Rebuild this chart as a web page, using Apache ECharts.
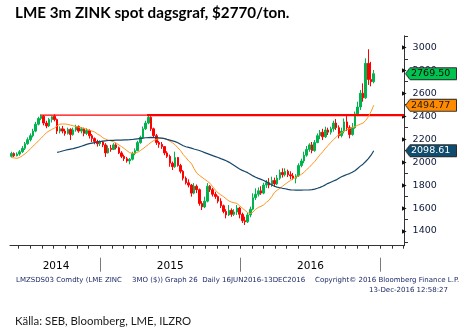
<!DOCTYPE html>
<html>
<head>
<meta charset="utf-8">
<script src="https://cdn.jsdelivr.net/npm/echarts@6/dist/echarts.min.js"></script>
<style>
  html, body { margin: 0; padding: 0; background: #fff; }
  #chart { width: 460px; height: 332px; }
</style>
</head>
<body>
<div id="chart"></div>
<script>
// LME 3m zinc, weekly candles (mid-week dates), May 2014 - Dec 2016
const firstWeek = Date.UTC(2014, 4, 14);
const weekCount = 136;

const weekOpen = [
  2050,2075,2055,2070,2090,2120,2160,2195,2230,2270,2330,2380,2400,2340,2315,2370,
  2400,2370,2270,2290,2270,2250,2285,2240,2280,2310,2270,2290,2250,2275,2230,2205,
  2180,2160,2175,2150,2080,2120,2110,2150,2125,2080,2050,2030,2010,2025,2075,2100,
  2170,2215,2290,2340,2390,2290,2230,2170,2155,2135,2080,2050,1990,1960,2040,1970,
  1920,1860,1820,1800,1730,1790,1760,1640,1610,1660,1790,1760,1720,1700,1660,1620,
  1570,1540,1580,1545,1565,1600,1545,1490,1480,1540,1590,1690,1720,1750,1730,1800,
  1820,1800,1840,1810,1860,1910,1890,1920,1890,1880,1860,1880,1970,2010,2060,2110,
  2150,2100,2170,2230,2260,2220,2280,2260,2290,2340,2300,2230,2270,2350,2300,2240,
  2300,2420,2480,2600,2560,2860,2720,2700
];
const weekClose = [
  2075,2055,2070,2090,2120,2160,2195,2230,2270,2330,2380,2400,2340,2315,2370,2395,
  2370,2270,2290,2270,2250,2285,2240,2280,2310,2270,2290,2250,2275,2230,2205,2180,
  2160,2175,2150,2080,2120,2110,2150,2125,2080,2050,2030,2010,2025,2075,2100,2170,
  2215,2290,2340,2390,2290,2230,2170,2155,2135,2080,2050,1990,1960,2040,1970,1920,
  1860,1820,1800,1730,1790,1760,1640,1610,1660,1790,1760,1720,1700,1660,1620,1570,
  1540,1580,1545,1565,1600,1545,1490,1480,1540,1590,1690,1720,1750,1730,1800,1820,
  1800,1840,1810,1860,1910,1890,1920,1890,1880,1860,1880,1970,2010,2060,2110,2150,
  2100,2170,2230,2260,2220,2280,2260,2290,2340,2300,2230,2270,2350,2300,2240,2300,
  2420,2480,2600,2560,2860,2720,2700,2769.50
];
const weekLow = [
  2040,2045,2050,2055,2080,2105,2150,2180,2215,2260,2320,2365,2320,2295,2305,2345,
  2355,2245,2250,2250,2230,2240,2192,2230,2265,2255,2250,2225,2235,2205,2175,2155,
  2135,2140,2130,2045,2075,2090,2105,2110,2070,2035,2010,1995,1981,2015,2060,2095,
  2160,2205,2280,2330,2270,2210,2150,2125,2115,2060,2036,1960,1931,1950,1960,1902,
  1840,1805,1780,1699,1720,1730,1620,1583,1600,1650,1740,1700,1680,1641,1600,1554,
  1510,1530,1524,1530,1540,1510,1470,1452,1470,1520,1580,1670,1700,1715,1720,1775,
  1772,1785,1786,1800,1845,1865,1875,1870,1850,1844,1815,1870,1955,1990,2047,2090,
  2077,2090,2165,2200,2192,2210,2236,2240,2265,2280,2207,2215,2250,2270,2207,2230,
  2290,2400,2454,2526,2550,2672,2660,2686
];
const weekHigh = [
  2090,2085,2085,2105,2140,2175,2215,2250,2290,2350,2395,2416,2410,2360,2385,2400,
  2416,2380,2310,2315,2290,2300,2295,2300,2325,2320,2305,2300,2295,2285,2245,2215,
  2195,2190,2185,2165,2145,2150,2165,2165,2135,2095,2065,2045,2035,2090,2120,2185,
  2230,2310,2360,2416,2400,2300,2245,2185,2175,2140,2095,2065,2005,2091,2045,1985,
  1930,1875,1850,1810,1817,1805,1770,1660,1699,1817,1800,1775,1742,1710,1685,1630,
  1590,1626,1597,1590,1626,1610,1560,1525,1560,1612,1728,1772,1780,1790,1820,1844,
  1860,1873,1865,1888,1935,1946,1946,1935,1920,1905,1895,1990,2030,2091,2140,2164,
  2175,2192,2250,2280,2290,2308,2300,2308,2360,2375,2320,2300,2380,2401,2320,2340,
  2440,2526,2628,2686,2904,2983,2873,2802
];

// 50-day moving average (orange)
const ma50 = [
  2040,2036,2033,2040,2055,2072,2091,2115,2138,2160,2185,2207,2232,2256,2272,2284,
  2296,2316,2330,2332,2332,2328,2322,2316,2310,2305,2300,2294,2286,2278,2270,2262,
  2245,2232,2212,2200,2192,2185,2178,2165,2150,2135,2118,2100,2082,2077,2077,2085,
  2100,2117,2135,2153,2172,2188,2198,2205,2207,2207,2195,2182,2168,2150,2125,2100,
  2065,2040,2010,1990,1945,1905,1885,1868,1850,1833,1815,1785,1755,1732,1715,1700,
  1680,1662,1652,1646,1640,1620,1600,1580,1560,1550,1565,1590,1605,1615,1628,1650,
  1668,1700,1735,1755,1772,1790,1808,1825,1840,1855,1868,1880,1893,1910,1935,1955,
  1980,2005,2035,2065,2090,2120,2145,2172,2195,2218,2240,2255,2270,2282,2292,2302,
  2310,2320,2330,2340,2362,2395,2440,2494.77
];

// 200-day moving average (dark blue), starts once enough history exists
const ma200 = [
  null,null,null,null,null,null,null,null,null,null,null,null,null,null,null,null,
  null,2085,2090,2097,2103,2108,2113,2118,2124,2130,2138,2146,2154,2161,2166,2170,
  2175,2178,2182,2185,2188,2189,2190,2191,2192,2192,2193,2194,2195,2197,2200,2203,
  2206,2209,2212,2214,2215,2214,2213,2211,2209,2205,2198,2192,2185,2178,2168,2155,
  2142,2134,2128,2122,2114,2108,2101,2092,2083,2074,2065,2056,2048,2040,2030,2022,
  2012,2000,1985,1970,1955,1940,1928,1918,1908,1895,1880,1868,1858,1850,1840,1828,
  1815,1800,1790,1782,1777,1772,1768,1762,1758,1757,1756,1756,1756,1757,1757,1758,
  1760,1765,1772,1780,1790,1802,1815,1825,1835,1845,1860,1872,1882,1892,1900,1912,
  1925,1945,1965,1982,2005,2030,2060,2098.61
];

// Resistance level joining the 2014 and 2015 highs
const resistanceLevel = 2410;
const resistanceStart = '2014-07-29';
const resistancePivot = '2015-05-02';

// Axis settings
const xStart = '2014-05-10';
const xEnd = '2017-03-03';
const yMin = 1272;
const yMax = 3100;
const yTickLabels = [1400, 1600, 1800, 2000, 2200, 2400, 2600, 2800, 3000];
const yMinorTicks = [1300, 1500, 1700, 1900, 2100, 2300, 2500, 2700, 2900, 3100];
const yearLabels = ['2014', '2015', '2016'];
const yearLabelDates = ['2014-09-07', '2015-07-02', '2016-07-02'];
const yearBreaks = ['2015-01-01', '2016-01-01', '2017-01-01'];

const ts = s => Date.parse(s + 'T00:00:00Z');
const weekDates = [];
for (let i = 0; i < weekCount; i++) weekDates.push(firstWeek + i * 7 * 86400000);

// month starts for the small x ticks
const monthTicks = [];
{
  const a = new Date(ts(xStart)), b = ts(xEnd);
  let y = a.getUTCFullYear(), m = a.getUTCMonth() + 1;
  for (;;) {
    const t = Date.UTC(y, m, 1);
    if (t > b) break;
    monthTicks.push(t);
    m++; if (m > 11) { m = 0; y++; }
  }
}
const yearLabelTimes = yearLabelDates.map(ts);

const xMin = ts(xStart), xMax = ts(xEnd);
const candles = weekDates.map((d, i) => [d, weekOpen[i], weekClose[i], weekLow[i], weekHigh[i]]);
const ma50Line = weekDates.map((d, i) => [d, ma50[i]]);
const ma200Line = weekDates.map((d, i) => [d, ma200[i]]);
const resistanceOld = [[ts(resistanceStart), resistanceLevel], [ts(resistancePivot), resistanceLevel]];
const resistanceNew = [[ts(resistancePivot), resistanceLevel], [xMax, resistanceLevel]];

const last = weekCount - 1;
const lastClose = weekClose[last];
const lastMa50 = ma50[last];
const lastMa200 = ma200[last];

// arrow-shaped value tag drawn as a label background
function tagImage(fill, w, h) {
  const c = document.createElement('canvas');
  c.width = w; c.height = h;
  const g = c.getContext('2d');
  g.beginPath();
  g.moveTo(0.5, h / 2);
  g.lineTo(5, 0.5);
  g.lineTo(w - 0.5, 0.5);
  g.lineTo(w - 0.5, h - 0.5);
  g.lineTo(5, h - 0.5);
  g.closePath();
  g.fillStyle = fill;
  g.fill();
  g.strokeStyle = '#2b2b2b';
  g.lineWidth = 1;
  g.stroke();
  return c;
}
const tagW = 52, tagH = 13;
function tagStyle(fill, textColor) {
  return {
    width: tagW - 6, height: tagH, lineHeight: tagH,
    padding: [0, 0, 0, 6],
    backgroundColor: { image: tagImage(fill, tagW, tagH) },
    color: textColor, fontSize: 9.5, fontFamily: 'DejaVu Sans'
  };
}

const chart = echarts.init(document.getElementById('chart'), null, { renderer: 'canvas' });

const footColor = '#1d2a68';
chart.setOption({
  animation: false,
  backgroundColor: '#ffffff',
  title: [
    {
      text: 'LME 3m ZINK spot dagsgraf, $2770/ton.',
      left: 10, top: 1,
      textStyle: { fontFamily: 'Lato', fontWeight: 'bold', fontSize: 15.2, color: '#000' }
    },
    {
      text: 'LMZSDS03 Comdty (LME ZINC',
      left: 11, top: 272,
      textStyle: { fontFamily: 'DejaVu Sans', fontWeight: 'normal', fontSize: 7, color: footColor }
    },
    {
      text: '3MO ($)) Graph 26  Daily 16JUN2016-13DEC2016',
      left: 127, top: 272,
      textStyle: { fontFamily: 'DejaVu Sans', fontWeight: 'normal', fontSize: 7, color: footColor }
    },
    {
      text: 'Copyright\u00a9 2016 Bloomberg Finance L.P.',
      left: 310, top: 272,
      textStyle: { fontFamily: 'DejaVu Sans', fontWeight: 'normal', fontSize: 7, color: footColor }
    },
    {
      text: '13-Dec-2016 12:58:27',
      right: 7, top: 282,
      textStyle: { fontFamily: 'DejaVu Sans', fontWeight: 'normal', fontSize: 7, color: footColor }
    },
    {
      text: 'K\u00e4lla: SEB, Bloomberg, LME, ILZRO',
      left: 10, top: 311,
      textStyle: { fontFamily: 'Lato', fontWeight: 'normal', fontSize: 11.4, color: '#1a1a1a' }
    }
  ],
  grid: { left: 10, right: 53, top: 35.8, bottom: 86.3 },
  xAxis: [
    {
      // date axis carrying the series
      type: 'time',
      min: xMin, max: xMax,
      axisLine: { show: true, lineStyle: { color: '#333', width: 1 } },
      axisTick: { show: false },
      axisLabel: { show: false },
      splitLine: { show: false }
    },
    {
      // month ticks and year labels
      type: 'value',
      position: 'bottom',
      min: xMin, max: xMax,
      axisLine: { show: false },
      axisTick: { show: true, length: 3, inside: false, customValues: monthTicks, lineStyle: { color: '#333' } },
      axisLabel: {
        show: true,
        customValues: yearLabelTimes,
        margin: 15,
        formatter: v => {
          let k = 0, best = Infinity;
          yearLabelTimes.forEach((t, j) => { const d = Math.abs(t - v); if (d < best) { best = d; k = j; } });
          return yearLabels[k];
        },
        fontFamily: 'DejaVu Sans', fontSize: 10.5, color: '#000'
      },
      splitLine: { show: false }
    },
    {
      // year separators below the axis
      type: 'value',
      position: 'bottom',
      offset: 12,
      min: xMin, max: xMax,
      axisLine: { show: false },
      axisTick: { show: true, length: 14, inside: false, customValues: yearBreaks.map(ts), lineStyle: { color: '#7a7a7a', width: 1 } },
      axisLabel: { show: false },
      splitLine: { show: false }
    }
  ],
  yAxis: [
    {
      type: 'value',
      position: 'right',
      min: yMin, max: yMax,
      axisLine: { show: true, lineStyle: { color: '#333', width: 1 } },
      axisTick: { show: true, length: 4, inside: false, customValues: yMinorTicks, lineStyle: { color: '#333' } },
      axisLabel: {
        show: true,
        customValues: yTickLabels,
        margin: -2,
        formatter: v => '{t|\u25B6}{v|' + v + '}',
        rich: {
          t: { fontSize: 6, color: '#111', fontFamily: 'DejaVu Sans' },
          v: { fontSize: 9.5, color: '#0d1838', fontFamily: 'DejaVu Sans', padding: [0, 0, 0, 6] }
        }
      },
      splitLine: { show: false }
    },
    {
      type: 'value',
      position: 'right',
      min: yMin, max: yMax,
      z: 10,
      axisLine: { show: false },
      axisTick: { show: false },
      splitLine: { show: false },
      axisLabel: {
        show: true,
        customValues: [lastClose, lastMa50, lastMa200],
        margin: 1,
        formatter: v => {
          if (Math.abs(v - lastClose) < 0.01) return '{g|' + lastClose.toFixed(2) + '}';
          if (Math.abs(v - lastMa50) < 0.01) return '{o|' + lastMa50.toFixed(2) + '}';
          return '{b|' + lastMa200.toFixed(2) + '}';
        },
        rich: {
          g: tagStyle('#00c24f', '#0a0a0a'),
          o: tagStyle('#ff8a00', '#1a1a1a'),
          b: tagStyle('#0f4c6e', '#ffffff')
        }
      }
    }
  ],
  series: [
    {
      name: 'LME 3m zink',
      type: 'candlestick',
      data: candles,
      barWidth: 2,
      itemStyle: {
        color: '#00b34f', color0: '#ff0000',
        borderColor: '#00b34f', borderColor0: '#ff0000', borderWidth: 1
      }
    },
    {
      name: 'Motstånd 2014-2015',
      type: 'line',
      data: resistanceOld,
      showSymbol: false,
      symbol: 'none',
      z: 3,
      lineStyle: { color: '#ff0000', width: 1.2 }
    },
    {
      name: 'Motstånd',
      type: 'line',
      data: resistanceNew,
      showSymbol: false,
      symbol: 'none',
      z: 3,
      lineStyle: { color: '#ff0000', width: 2.2 }
    },
    {
      name: 'MA50',
      type: 'line',
      data: ma50Line,
      showSymbol: false,
      symbol: 'none',
      z: 4,
      lineStyle: { color: '#ff961c', width: 1 }
    },
    {
      name: 'MA200',
      type: 'line',
      data: ma200Line,
      showSymbol: false,
      symbol: 'none',
      z: 4,
      lineStyle: { color: '#15476b', width: 1.2 }
    }
  ]
});
</script>
</body>
</html>
